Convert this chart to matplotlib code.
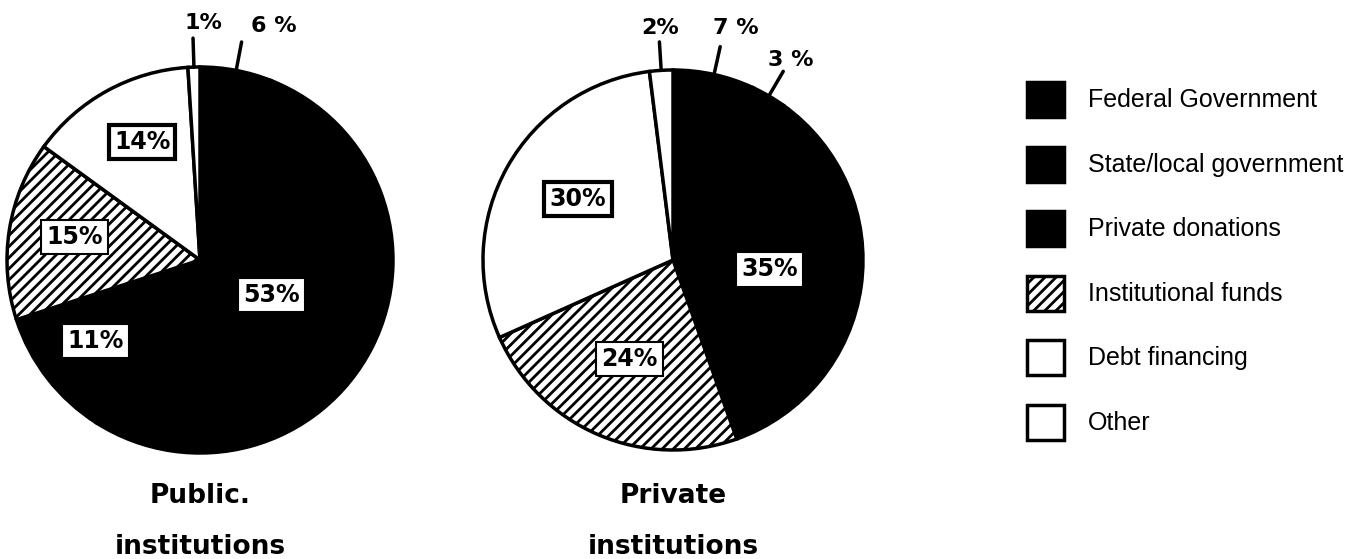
import matplotlib
matplotlib.use('Agg')
import matplotlib.pyplot as plt
from matplotlib.patches import Rectangle
import numpy as np

categories = ['Federal Government', 'State/local government', 'Private donations',
              'Institutional funds', 'Debt financing', 'Other']
public_values = [6, 53, 11, 15, 14, 1]
private_values = [7, 3, 35, 24, 30, 2]
public_labels = ['6 %', '53%', '11%', '15%', '14%', '1%']
private_labels = ['7 %', '3 %', '35%', '24%', '30%', '2%']

colors = ['black', 'black', 'black', 'white', 'white', 'white']
hatches = [None, None, None, '///', None, None]

plt.rcParams['hatch.color'] = 'black'
plt.rcParams['hatch.linewidth'] = 2.0

W, H = 1366, 559
fig = plt.figure(figsize=(W / 100, H / 100), dpi=100)


def draw_pie(cx, cy, R, values, labels, inside, outside, title):
    s = 260
    ax = fig.add_axes([(cx - s) / W, (H - cy - s) / H, 2 * s / W, 2 * s / H])
    wedges, _ = ax.pie(values, colors=colors, startangle=90, counterclock=False,
                       wedgeprops=dict(edgecolor='black', linewidth=2.5))
    for w, h in zip(wedges, hatches):
        if h:
            w.set_hatch(h)
    lim = s / R
    ax.set_xlim(-lim, lim)
    ax.set_ylim(-lim, lim)
    ax.axis('off')

    for i, w in enumerate(wedges):
        if i in inside:
            x, y, lw = inside[i]
            ax.text(x, y, labels[i], ha='center', va='center', fontsize=17,
                    fontweight='bold', zorder=5,
                    bbox=dict(boxstyle='square,pad=0.22', fc='white', ec='black', lw=lw))
        elif i in outside:
            ang = np.deg2rad((w.theta1 + w.theta2) / 2)
            ax.plot([np.cos(ang), 1.15 * np.cos(ang)], [np.sin(ang), 1.15 * np.sin(ang)],
                    color='black', lw=2.5, solid_capstyle='round', clip_on=False)
            tx, ty = outside[i]
            ax.text(tx, ty, labels[i], ha='center', va='center', fontsize=16,
                    fontweight='bold', clip_on=False)

    # title lines, baselines at fixed pixel rows below the pie
    for line, base_px in zip(title.split('\n'), [503, 554]):
        ax.text(0, -(base_px - cy) / R, line, ha='center', va='baseline',
                fontsize=19, fontweight='bold', clip_on=False)


draw_pie(200, 260, 193, public_values, public_labels,
         inside={1: (0.37, -0.18, 1.5), 2: (-0.54, -0.42, 1.5),
                 3: (-0.65, 0.12, 1.5), 4: (-0.30, 0.61, 3)},
         outside={0: (0.38, 1.21), 5: (0.02, 1.23)},
         title='Public.\ninstitutions')

draw_pie(673, 260, 190, private_values, private_labels,
         inside={2: (0.51, -0.05, 1.5), 3: (-0.23, -0.52, 1.5), 4: (-0.50, 0.32, 3)},
         outside={0: (0.33, 1.22), 1: (0.62, 1.05), 5: (-0.07, 1.22)},
         title='Private\ninstitutions')

# legend
lg = fig.add_axes([0, 0, 1, 1])
lg.set_xlim(0, W)
lg.set_ylim(H, 0)
lg.axis('off')
for i, name in enumerate(categories):
    yc = 100 + i * 64.6
    lg.add_patch(Rectangle((1027, yc - 18), 37, 35, facecolor=colors[i],
                           edgecolor='black', lw=2.5, hatch=hatches[i]))
    lg.text(1088, yc, name, ha='left', va='center', fontsize=18,
            family='Liberation Sans')

plt.savefig('out.png', dpi=100)
